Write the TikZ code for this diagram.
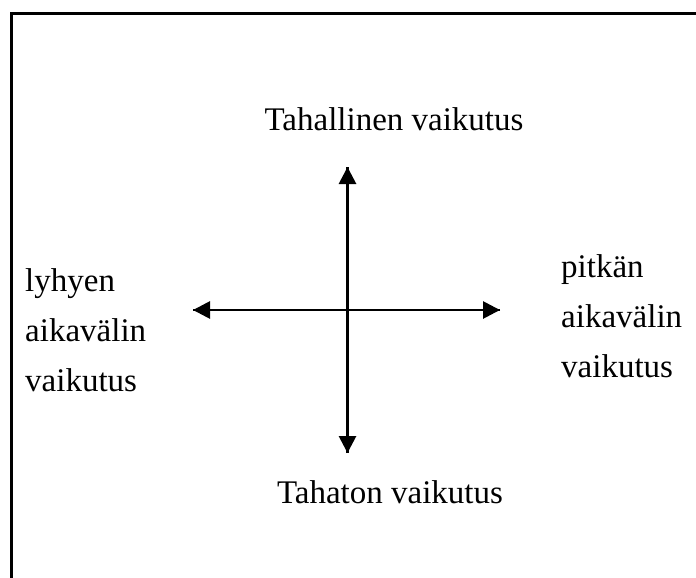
\documentclass[tikz,border=0pt]{standalone}
\usepackage{fontspec}
\setmainfont{Liberation Serif}
\usetikzlibrary{arrows.meta}
\tikzset{
  axis/.style={line width=2.8pt, -{Triangle[length=17pt,width=17pt]}},
  lbl/.style={inner sep=0pt, font=\fontsize{33}{50}\selectfont},
  frame/.style={line width=2.4pt}
}
\begin{document}
\begin{tikzpicture}[x=1pt,y=-1pt]
\useasboundingbox (0,0) rectangle (696,578);
% frame (only top and left edges are visible)
\coordinate (fbl) at (11.5,580);
\coordinate (ftl) at (11.5,13.5);
\coordinate (ftr) at (698,13.5);
\draw[frame] (fbl) -- (ftl) -- (ftr);
% axes
\coordinate (c) at (347.5,310);
\coordinate (up) at (347.5,167);
\coordinate (dn) at (347.5,453);
\coordinate (lt) at (193,310);
\coordinate (rt) at (500,310);
\draw[axis] (dn) -- (up);
\draw[axis] (up) -- (dn);
\draw[axis] (rt) -- (lt);
\draw[axis] (lt) -- (rt);
% labels
\node[lbl, anchor=base] (top) at (394,130) {Tahallinen vaikutus};
\node[lbl, anchor=base] (bot) at (390,503) {Tahaton vaikutus};
\node[lbl, anchor=north west, align=left] (left) at (25,268) {lyhyen\\aikavälin\\vaikutus};
\node[lbl, anchor=north west, align=left] (right) at (561,254) {pitkän\\aikavälin\\vaikutus};
\end{tikzpicture}
\end{document}
